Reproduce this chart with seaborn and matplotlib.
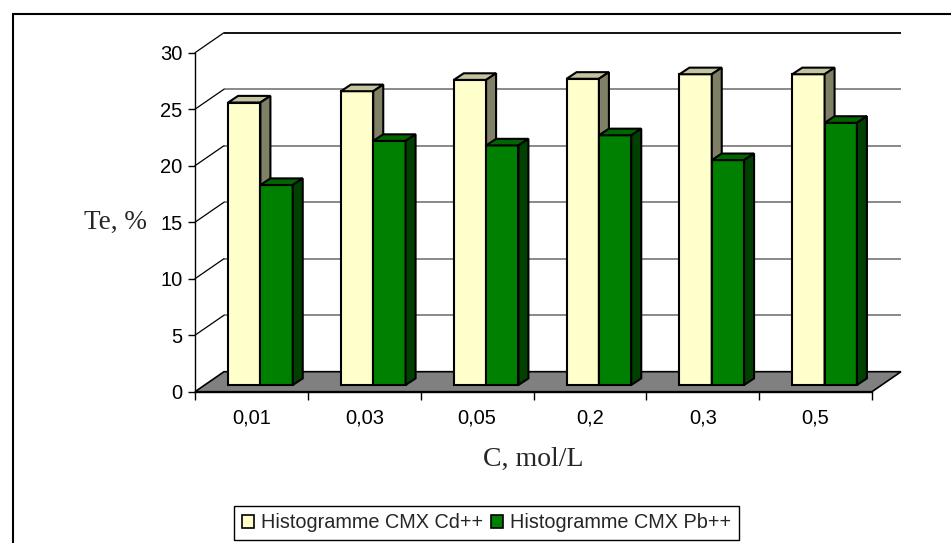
import matplotlib
matplotlib.use("Agg")
import matplotlib.pyplot as plt
import seaborn as sns
import pandas as pd
import numpy as np
from matplotlib.patches import Polygon, Patch
from matplotlib.lines import Line2D

# ---------------- data ----------------
categories = ["0,01", "0,03", "0,05", "0,2", "0,3", "0,5"]
series_names = ["Histogramme CMX Cd++", "Histogramme CMX Pb++"]
cd_values = [25.0, 26.0, 27.0, 27.1, 27.5, 27.5]
pb_values = [17.7, 21.6, 21.2, 22.1, 19.9, 23.2]
y_ticks = [0, 5, 10, 15, 20, 25, 30]

front_colors = ["#FFFFCC", "#008000"]
top_colors = ["#C4C4A0", "#006600"]
side_colors = ["#808066", "#004000"]

df = pd.DataFrame({
    "C": categories * 2,
    "series": [series_names[0]] * len(categories) + [series_names[1]] * len(categories),
    "Te": cd_values + pb_values,
})

sns.set_style("white")
plt.rcParams["font.family"] = ["Liberation Sans", "DejaVu Sans"]

W, H = 951, 543
fig = plt.figure(figsize=(W / 100, H / 100), dpi=100)
fig.patch.set_facecolor("white")

# front plane of the 3D box, in pixels
ax_left, ax_right, ax_top, ax_bottom = 195, 872, 52.7, 391.7
ax = fig.add_axes([ax_left / W, 1 - ax_bottom / H,
                   (ax_right - ax_left) / W, (ax_bottom - ax_top) / H])
ax.set_facecolor("none")

ncat = len(categories)
ux = ncat / (ax_right - ax_left)       # data units per pixel (x)
uy = 30 / (ax_bottom - ax_top)         # data units per pixel (y)
DX, DY = 29 * ux, 20 * uy              # full depth of the box
SX, SY = 9 * ux, 6.7 * uy              # bar front-plane offset
BX, BY = 10 * ux, 6.6 * uy             # bar depth

sns.barplot(data=df, x="C", y="Te", hue="series", order=categories,
            hue_order=series_names, palette=front_colors, saturation=1,
            width=0.573, gap=0, edgecolor="black", linewidth=1.5,
            errorbar=None, legend=False, ax=ax)

for k, cont in enumerate(ax.containers):
    for p in cont.patches:
        p.set_x(p.get_x() + SX)
        p.set_y(SY)
        p.set_zorder(3 + 2 * k)
        p.set_clip_on(False)
        p.set_joinstyle("miter")
        x0 = p.get_x()
        x1 = x0 + p.get_width()
        y0 = SY
        y1 = SY + p.get_height()
        top = Polygon([(x0, y1), (x1, y1), (x1 + BX, y1 + BY), (x0 + BX, y1 + BY)],
                      closed=True, fc=top_colors[k], ec="black", lw=1.5,
                      zorder=3.5 + 2 * k, clip_on=False, joinstyle="miter")
        side = Polygon([(x1, y0), (x1 + BX, y0 + BY), (x1 + BX, y1 + BY), (x1, y1)],
                       closed=True, fc=side_colors[k], ec="black", lw=1.5,
                       zorder=3.5 + 2 * k, clip_on=False, joinstyle="miter")
        ax.add_patch(top)
        ax.add_patch(side)

# floor
x_lo, x_hi = -0.5, ncat - 0.5
floor = Polygon([(x_lo, 0), (x_hi, 0), (x_hi + DX, DY), (x_lo + DX, DY)],
                closed=True, fc="#808080", ec="black", lw=1.2, zorder=1,
                clip_on=False)
ax.add_patch(floor)

# back wall gridlines and side wall diagonals
for v in y_ticks[1:]:
    ax.plot([x_lo + DX, x_hi + DX], [v + DY, v + DY],
            color="black" if v == y_ticks[-1] else "#808080",
            lw=1.3, zorder=0.5, clip_on=False, solid_capstyle="butt")
    ax.plot([x_lo, x_lo + DX], [v, v + DY], color="black", lw=0.9,
            zorder=0.5, clip_on=False)

ax.set_xlim(x_lo, x_hi)
ax.set_ylim(0, 30)
ax.set_yticks(y_ticks)
ax.set_xticks(range(ncat))
ax.set_xticklabels(categories)
ax.set_xticks(np.arange(x_lo, x_hi + 0.01, 1), minor=True)
ax.set_xlabel("")
ax.set_ylabel("")
for s in ["top", "right"]:
    ax.spines[s].set_visible(False)
for s in ["left", "bottom"]:
    ax.spines[s].set_color("black")
    ax.spines[s].set_linewidth(1)
    ax.spines[s].set_zorder(2)
ax.tick_params(axis="y", which="major", left=True, direction="out", length=5,
               width=1, color="black", pad=4, labelsize=14.5, labelcolor="black")
ax.tick_params(axis="x", which="major", bottom=True, length=0, pad=12,
               labelsize=14.5, labelcolor="black")
ax.tick_params(axis="x", which="minor", bottom=True, direction="out", length=6,
               width=1, color="black")

serif = ["Liberation Serif", "DejaVu Serif"]
fig.text(115 / W, 1 - 222 / H, "Te, %", family=serif, fontsize=19.5,
         ha="center", va="center")
fig.text(533 / W, 1 - 459 / H, "C, mol/L", family=serif, fontsize=20,
         ha="center", va="center")

# chart border (left and top edges visible)
fig.add_artist(Line2D([12.5 / W, 12.5 / W], [1 - 14 / H, 0], color="black",
                      lw=1.5, transform=fig.transFigure))
fig.add_artist(Line2D([12.5 / W, 1], [1 - 14 / H, 1 - 14 / H], color="black",
                      lw=1.5, transform=fig.transFigure))

handles = [Patch(fc=front_colors[k], ec="black", lw=1.2) for k in range(2)]
leg = fig.legend(handles=handles, labels=series_names, loc="center",
                 bbox_to_anchor=(486.5 / W, 1 - 523 / H), ncol=2, frameon=True,
                 fancybox=False, edgecolor="black", framealpha=1,
                 fontsize=14.3, handlelength=0.6, handleheight=0.6,
                 handletextpad=0.35, columnspacing=0.4, borderpad=0.4,
                 borderaxespad=0)
leg.get_frame().set_linewidth(1)

fig.savefig("out.png", dpi=100)
